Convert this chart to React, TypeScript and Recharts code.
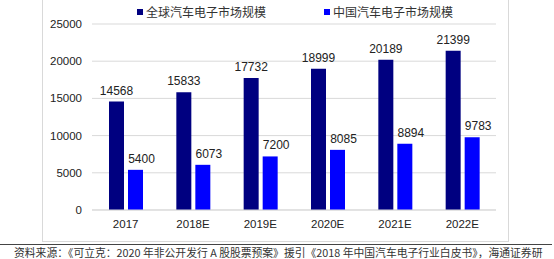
import { Bar, BarChart, CartesianGrid, LabelList, XAxis, YAxis } from "recharts";

const years = ["2017", "2018E", "2019E", "2020E", "2021E", "2022E"];
const globalMarket = [14568, 15833, 17732, 18999, 20189, 21399];
const chinaMarket = [5400, 6073, 7200, 8085, 8894, 9783];
const yTicks = [0, 5000, 10000, 15000, 20000, 25000];

const GLOBAL_NAME = "全球汽车电子市场规模";
const CHINA_NAME = "中国汽车电子市场规模";
const SOURCE =
  "资料来源：《可立克：2020 年非公开发行 A 股股票预案》援引《2018 年中国汽车电子行业白皮书》，海通证券研";

const data = years.map((year, i) => ({
  year,
  global: globalMarket[i],
  china: chinaMarket[i],
}));

const NAVY = "#000080";
const BLUE = "#0000ff";
const NUM_FONT = "'Liberation Sans', Arial, sans-serif";
const CJK_FONT = "'Noto Sans CJK SC', sans-serif";

const legendItems = [
  { name: GLOBAL_NAME, color: NAVY, left: 137 },
  { name: CHINA_NAME, color: BLUE, left: 324 },
];

export default function App() {
  return (
    <div
      style={{
        position: "absolute",
        left: 0,
        top: 0,
        width: 554,
        height: 259,
        background: "#fff",
        overflow: "hidden",
      }}
    >
      <div
        style={{
          position: "absolute",
          left: 42,
          top: -2,
          width: 467,
          height: 244,
          border: "1px solid #d9d9d9",
          boxSizing: "border-box",
        }}
      />
      {/* legend */}
      {legendItems.map((item) => (
        <div
          key={item.name}
          style={{
            position: "absolute",
            left: item.left,
            top: 3,
            display: "flex",
            alignItems: "center",
            fontFamily: CJK_FONT,
            fontSize: 12,
            lineHeight: "18px",
            color: "#333",
            whiteSpace: "nowrap",
          }}
        >
          <span
            style={{
              display: "inline-block",
              width: 6,
              height: 6,
              background: item.color,
              marginRight: 3,
            }}
          />
          {item.name}
        </div>
      ))}
      <div style={{ position: "absolute", left: 0, top: 0 }}>
        <BarChart
          width={554}
          height={243}
          data={data}
          margin={{ top: 24, right: 58, left: 0, bottom: 0 }}
          barGap={4}
          barCategoryGap={17}
        >
          <CartesianGrid stroke="#d9d9d9" vertical={false} />
          <XAxis
            dataKey="year"
            axisLine={{ stroke: "#d9d9d9" }}
            tickLine={false}
            tickMargin={4}
            height={33}
            tick={{ fill: "#222", fontSize: 11.5, fontFamily: NUM_FONT }}
          />
          <YAxis
            width={92}
            domain={[0, 25000]}
            ticks={yTicks}
            axisLine={false}
            tickLine={false}
            tickMargin={4}
            tick={{ fill: "#222", fontSize: 11.5, fontFamily: NUM_FONT }}
          />
          <Bar dataKey="global" name={GLOBAL_NAME} fill={NAVY} barSize={15} isAnimationActive={false}>
            <LabelList
              dataKey="global"
              position="top"
              offset={7}
              style={{ fill: "#222", fontSize: 12, fontFamily: NUM_FONT }}
            />
          </Bar>
          <Bar dataKey="china" name={CHINA_NAME} fill={BLUE} barSize={15} isAnimationActive={false}>
            <LabelList
              dataKey="china"
              position="top"
              offset={7}
              dx={6}
              style={{ fill: "#222", fontSize: 12, fontFamily: NUM_FONT }}
            />
          </Bar>
        </BarChart>
      </div>
      <div
        style={{
          position: "absolute",
          left: 0,
          top: 244,
          width: 552,
          height: 0,
          borderTop: "1.5px solid #444",
        }}
      />
      <div
        style={{
          position: "absolute",
          left: 14,
          top: 245,
          fontFamily: CJK_FONT,
          fontSize: 10.8,
          lineHeight: "14px",
          color: "#333",
          whiteSpace: "nowrap",
        }}
      >
        {SOURCE}
      </div>
    </div>
  );
}
